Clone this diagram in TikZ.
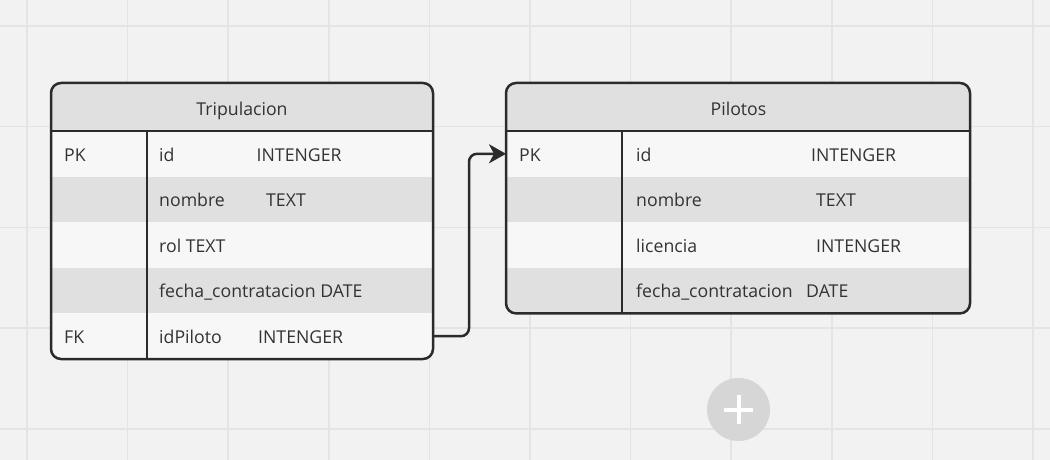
\documentclass[tikz,border=0pt]{standalone}
\usepackage{fontspec}
\setmainfont{Open Sans}
\usetikzlibrary{arrows.meta}
\definecolor{bg}{HTML}{F2F2F2}
\definecolor{gridc}{HTML}{E4E4E4}
\definecolor{hdr}{HTML}{E0E0E0}
\definecolor{rowlight}{HTML}{F7F7F7}
\definecolor{rowdark}{HTML}{E0E0E0}
\definecolor{edge}{HTML}{2B2B2B}
\definecolor{txt}{HTML}{333333}
\definecolor{plusbg}{HTML}{D6D6D6}
\begin{document}
\begin{tikzpicture}[x=1pt,y=-1pt,
  cell/.style={inner sep=0pt,outer sep=0pt,anchor=north west,minimum height=45.6pt},
  lbl/.style={anchor=base west,inner sep=0pt,text=txt,font=\fontsize{17.7}{20}\selectfont},
  ttl/.style={anchor=base,inner sep=0pt,text=txt,font=\fontsize{17.7}{20}\selectfont},
  border/.style={draw=edge,line width=2.5pt},
  conn/.style={draw=edge,line width=2.5pt,rounded corners=8pt,-{Stealth[length=17pt,width=19pt,inset=5pt]}}
]
\fill[bg] (0,0) rectangle (1050,460);
\useasboundingbox (0,0) rectangle (1050,460);
\foreach \i in {0,...,10} \draw[gridc,line width=1.5pt] (27+100.6*\i,0) -- (27+100.6*\i,460);
\foreach \j in {0,...,4} \draw[gridc,line width=1.5pt] (0,26+100.7*\j) -- (1050,26+100.7*\j);

% ---------- Tripulacion ----------
\begin{scope}
\clip[rounded corners=10pt] (51,83) rectangle (433,359);
\node[cell,fill=hdr,minimum width=382pt,minimum height=48pt] (th) at (51,83) {};
\node[cell,fill=rowlight,minimum width=382pt] (tr1) at (51,131) {};
\node[cell,fill=rowdark,minimum width=382pt] (tr2) at (51,176.6) {};
\node[cell,fill=rowlight,minimum width=382pt] (tr3) at (51,222.2) {};
\node[cell,fill=rowdark,minimum width=382pt] (tr4) at (51,267.8) {};
\node[cell,fill=rowlight,minimum width=382pt] (tr5) at (51,313.4) {};
\end{scope}
\draw[border,rounded corners=10pt] (51,83) rectangle (433,359);
\draw[border] (th.south west) -- (th.south east);
\draw[border] (147,131) -- (147,359);

\node[ttl] (ttitle) at (242,115) {Tripulacion};
\node[lbl] (tpk) at (64,161) {PK};
\node[lbl] (tn1) at (159,161) {id};
\node[lbl] (tt1) at (256.5,161) {INTENGER};
\node[lbl] (tn2) at (159,206.6) {nombre};
\node[lbl] (tt2) at (266,206.6) {TEXT};
\node[lbl] (tn3) at (159,252.2) {rol TEXT};
\node[lbl] (tn4) at (159,297.8) {fecha\_contratacion DATE};
\node[lbl] (tfk) at (64,343.4) {FK};
\node[lbl] (tn5) at (159,343.4) {idPiloto};
\node[lbl] (tt5) at (258,343.4) {INTENGER};

% ---------- Pilotos ----------
\begin{scope}
\clip[rounded corners=10pt] (506,83) rectangle (970,313.4);
\node[cell,fill=hdr,minimum width=464pt,minimum height=48pt] (ph) at (506,83) {};
\node[cell,fill=rowlight,minimum width=464pt] (pr1) at (506,131) {};
\node[cell,fill=rowdark,minimum width=464pt] (pr2) at (506,176.6) {};
\node[cell,fill=rowlight,minimum width=464pt] (pr3) at (506,222.2) {};
\node[cell,fill=rowdark,minimum width=464pt] (pr4) at (506,267.8) {};
\end{scope}
\draw[border,rounded corners=10pt] (506,83) rectangle (970,313.4);
\draw[border] (ph.south west) -- (ph.south east);
\draw[border] (622,131) -- (622,313.4);

\node[ttl] (ptitle) at (738.5,115) {Pilotos};
\node[lbl] (ppk) at (519,161) {PK};
\node[lbl] (pn1) at (636,161) {id};
\node[lbl] (pt1) at (811,161) {INTENGER};
\node[lbl] (pn2) at (636,206.6) {nombre};
\node[lbl] (pt2) at (816,206.6) {TEXT};
\node[lbl] (pn3) at (636,252.2) {licencia};
\node[lbl] (pt3) at (816,252.2) {INTENGER};
\node[lbl] (pn4) at (636,297.8) {fecha\_contratacion};
\node[lbl] (pt4) at (806,297.8) {DATE};

% ---------- connector ----------
\draw[conn] (tr5.east) -- ++(36,0) |- (pr1.west);

% ---------- add button ----------
\node[circle,fill=plusbg,minimum size=63pt,inner sep=0pt] (plus) at (738.5,409.5) {};
\draw[white,line width=4pt] ([xshift=-14.5pt]plus.center) -- ([xshift=14.5pt]plus.center);
\draw[white,line width=4pt] ([yshift=-14.5pt]plus.center) -- ([yshift=14.5pt]plus.center);
\end{tikzpicture}
\end{document}
